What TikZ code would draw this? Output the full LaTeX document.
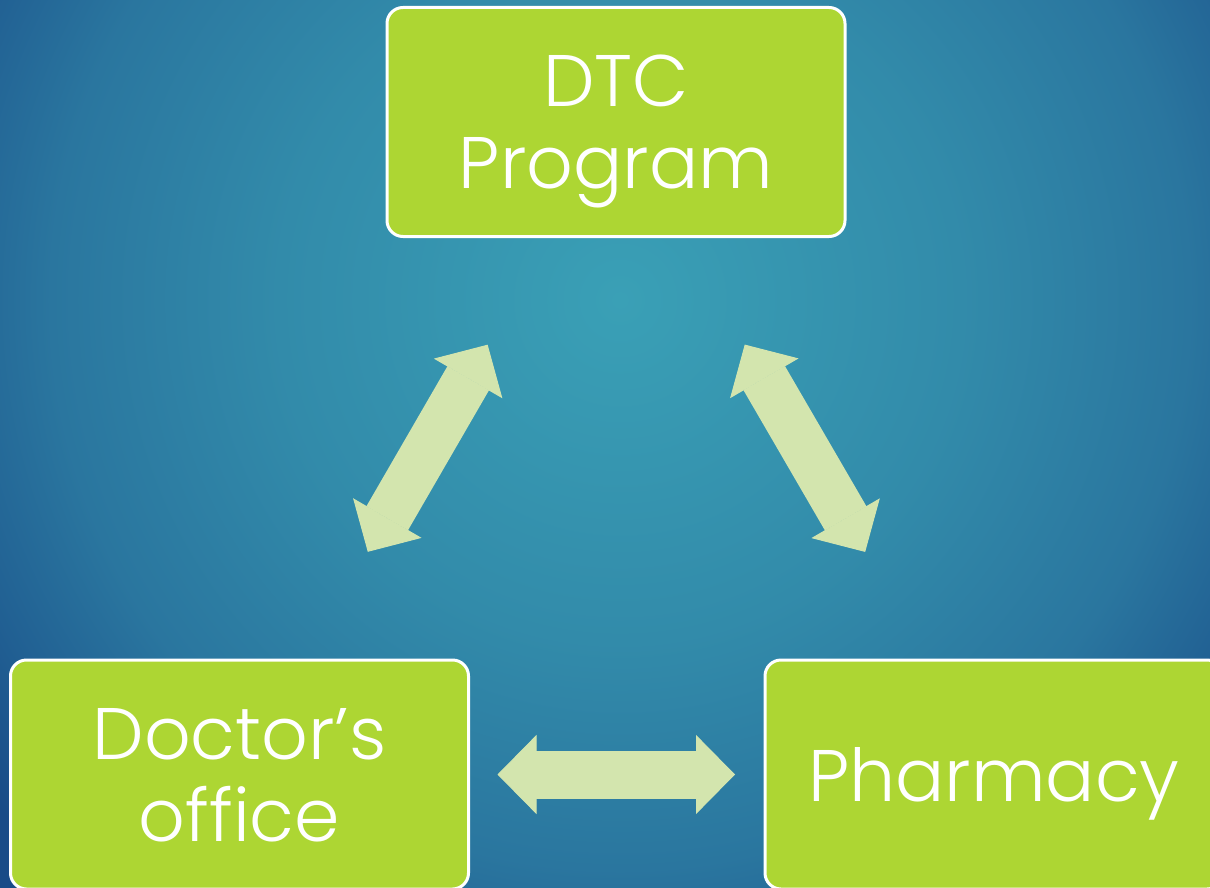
\documentclass[tikz,border=0pt]{standalone}
\usepackage{fontspec}
\setmainfont{Poppins}[UprightFont=* Light]
\usetikzlibrary{arrows.meta}

\definecolor{boxgreen}{RGB}{173,214,51}
\definecolor{arrowgreen}{RGB}{211,229,174}
\definecolor{glowin}{RGB}{58,160,182}
\definecolor{glowa}{RGB}{50,139,170}
\definecolor{glowb}{RGB}{42,118,159}
\definecolor{glowc}{RGB}{33,96,147}
\definecolor{glowout}{RGB}{25,75,135}

% soft light spot behind the diagram, at its natural size
\pgfdeclareradialshading{bgglow}{\pgfpoint{0bp}{0bp}}{%
  color(0bp)=(glowin); color(340bp)=(glowa); color(567bp)=(glowb);
  color(693bp)=(glowc); color(800bp)=(glowout); color(900bp)=(glowout)}

\tikzset{
  partner/.style={draw=white, line width=3pt, fill=boxgreen, rounded corners=16pt,
    minimum width=458pt, minimum height=229pt, outer sep=0pt, text depth=0pt,
    text=white, align=center, font=\fontsize{73}{82}\selectfont},
  link/.style={draw=arrowgreen, line width=48pt,
    {Triangle[length=39pt, width=79pt, line width=1pt]}-{Triangle[length=39pt, width=79pt, line width=1pt]}}
}

\begin{document}
\begin{tikzpicture}[x=1pt, y=-1pt]
    % Page and background
    \useasboundingbox (0,0) rectangle (1210,888);
    \clip (0,0) rectangle (1210,888);
    \node[inner sep=0pt] (glow) at (620,300) {\pgfuseshading{bgglow}};

    % Partners
    \node[partner] (dtc) at (616,122) {DTC\\Program};
    \node[partner] (doctor) at (239.5,774.5) {Doctor’s\\office};
    \node[partner] (pharmacy) at (994,774.5) {Pharmacy};

    % Two-way links
    \draw[link, shorten <=125pt, shorten >=125pt] (doctor) -- (dtc);
    \draw[link, shorten <=125pt, shorten >=125pt] (dtc) -- (pharmacy);
    \draw[link, shorten <=29pt, shorten >=30pt] (doctor) -- (pharmacy);
\end{tikzpicture}
\end{document}
